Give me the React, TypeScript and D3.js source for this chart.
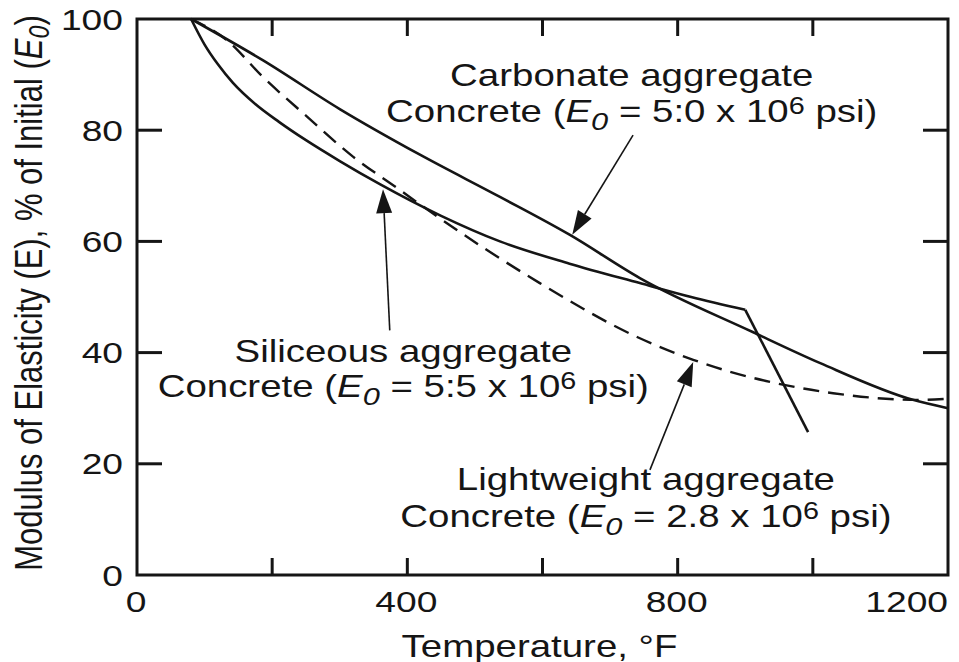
import { useEffect, useRef } from 'react';
import * as d3 from 'd3';

const W = 959;
const H = 662;

// axis ticks
const xTicks = [0, 200, 400, 600, 800, 1000, 1200];
const xTickLabels = [0, 400, 800, 1200];
const yTicks = [0, 20, 40, 60, 80, 100];

// [temperature °F, % of initial modulus]
const carbonate: [number, number][] = [
  [80, 100], [186, 92.6], [300, 83.8], [420, 75.5], [537, 68], [640, 61.2],
  [744, 53.4], [911, 43.7], [1011, 38.1], [1148, 31.5], [1200, 30],
];
const siliceous: [number, number][] = [
  [80, 100], [100, 95.4], [120, 91.8], [142, 88.5], [175, 84.7], [210, 81.5],
  [250, 78.2], [300, 74.45], [360, 70.25], [450, 64.6], [537, 60], [640, 56],
  [744, 52.5], [820, 50], [900, 47.7],
];
const siliceousDrop: [number, number][] = [[900, 47.7], [993, 25.7]];
const lightweight: [number, number][] = [
  [80, 100], [133, 96.2], [186, 89.6], [252, 82.4], [320, 75.2], [385, 69.6],
  [438, 65], [596, 52.5], [740, 42.8], [823, 38.7], [1030, 32.7], [1154, 31.5], [1200, 31.7],
];

// annotation arrows: tail -> tip, data coords
const arrowTails: [number, number][] = [[734, 79.1], [374, 44], [759, 18.9]];
const arrowTips: [number, number][] = [[644, 61.2], [364, 69.4], [823, 38.3]];

// annotation labels: centre x, first and second baseline, name, E0
const labelX = [732, 394, 753];
const labelY1 = [87.9, 38.3, 15.3];
const labelY2 = [81.5, 32.0, 8.6];
const labelNames = ['Carbonate aggregate', 'Siliceous aggregate', 'Lightweight aggregate'];
const labelE0 = ['5:0', '5:5', '2.8'];

const SX = 1.24;
const FONT = "'Liberation Sans', Arial, Helvetica, sans-serif";
const INK = '#151515';

export default function App() {
  const svgRef = useRef<SVGSVGElement>(null);

  useEffect(() => {
    const svg = d3.select(svgRef.current);
    if (!svg.node()) return;
    svg.selectAll('*').remove();

    const x = d3.scaleLinear().domain([0, 1200]).range([137, 948]);
    const y = d3.scaleLinear().domain([0, 100]).range([575, 19]);

    svg.append('rect').attr('width', W).attr('height', H).attr('fill', '#fff');

    const g = svg.append('g');

    const stretched = (px: number, py: number, anchor: string, size: number) =>
      g.append('g')
        .attr('transform', `translate(${px},${py}) scale(${SX},1)`)
        .append('text')
        .attr('text-anchor', anchor)
        .style('font-family', FONT)
        .style('font-size', `${size}px`)
        .style('fill', INK);

    // frame
    g.append('rect')
      .attr('x', x(0)).attr('y', y(100))
      .attr('width', x(1200) - x(0)).attr('height', y(0) - y(100))
      .attr('fill', 'none').attr('stroke', INK).attr('stroke-width', 3);

    // inward ticks on all four sides
    xTicks.slice(1, -1).forEach(t => {
      g.append('line').attr('x1', x(t)).attr('x2', x(t))
        .attr('y1', y(0)).attr('y2', y(0) - 17)
        .attr('stroke', INK).attr('stroke-width', 3);
      g.append('line').attr('x1', x(t)).attr('x2', x(t))
        .attr('y1', y(100)).attr('y2', y(100) + 17)
        .attr('stroke', INK).attr('stroke-width', 3);
    });
    yTicks.slice(1, -1).forEach(t => {
      g.append('line').attr('x1', x(0)).attr('x2', x(0) + 25)
        .attr('y1', y(t)).attr('y2', y(t))
        .attr('stroke', INK).attr('stroke-width', 3);
      g.append('line').attr('x1', x(1200)).attr('x2', x(1200) - 25)
        .attr('y1', y(t)).attr('y2', y(t))
        .attr('stroke', INK).attr('stroke-width', 3);
    });

    // tick labels
    yTicks.forEach(t => {
      stretched(x(0) - 14, y(t) + 10.5, 'end', 30).text(String(t));
    });
    xTickLabels.forEach((t, i) => {
      const last = i === xTickLabels.length - 1;
      stretched(last ? x(t) : x(t) - 1, y(0) + 37, last ? 'end' : 'middle', 30).text(String(t));
    });

    // axis titles
    stretched((x(0) + x(1200)) / 2 - 3, 657, 'middle', 31).text('Temperature, °F');

    const yl = g.append('g')
      .attr('transform', `translate(42, 293) scale(${SX},1) rotate(-90)`)
      .append('text')
      .attr('text-anchor', 'middle')
      .style('font-family', FONT)
      .style('font-size', '31px')
      .style('fill', INK);
    yl.append('tspan').text('Modulus of Elasticity (E), % of Initial (');
    yl.append('tspan').style('font-style', 'italic').text('E');
    yl.append('tspan').style('font-style', 'italic').style('font-size', '0.75em').attr('dy', 6).text('0');
    yl.append('tspan').attr('dy', -6).text(')');

    // curves
    const line = d3.line<[number, number]>()
      .x(d => x(d[0]))
      .y(d => y(d[1]))
      .curve(d3.curveMonotoneX);
    const straight = d3.line<[number, number]>()
      .x(d => x(d[0]))
      .y(d => y(d[1]));

    g.append('path').attr('d', line(carbonate))
      .attr('fill', 'none').attr('stroke', INK).attr('stroke-width', 2.6);
    g.append('path').attr('d', line(siliceous))
      .attr('fill', 'none').attr('stroke', INK).attr('stroke-width', 2.6)
      .attr('stroke-linejoin', 'miter');
    g.append('path').attr('d', straight(siliceousDrop))
      .attr('fill', 'none').attr('stroke', INK).attr('stroke-width', 2.6);
    g.append('path').attr('d', line(lightweight))
      .attr('fill', 'none').attr('stroke', INK).attr('stroke-width', 2.4)
      .attr('stroke-dasharray', '16,9');

    // arrows
    arrowTails.forEach((tail, i) => {
      const tip = arrowTips[i];
      const x0 = x(tail[0]), y0 = y(tail[1]);
      const x1 = x(tip[0]), y1 = y(tip[1]);
      const len = Math.hypot(x1 - x0, y1 - y0);
      const ux = (x1 - x0) / len, uy = (y1 - y0) / len;
      const headLen = 24, headW = 8;
      const bx = x1 - ux * headLen, by = y1 - uy * headLen;
      g.append('line')
        .attr('x1', x0).attr('y1', y0).attr('x2', bx).attr('y2', by)
        .attr('stroke', INK).attr('stroke-width', 1.6);
      g.append('polygon')
        .attr('points', [
          [x1, y1],
          [bx - uy * headW, by + ux * headW],
          [bx + uy * headW, by - ux * headW],
        ].map(p => p.join(',')).join(' '))
        .attr('fill', INK);
    });

    // annotation labels
    labelNames.forEach((name, i) => {
      stretched(x(labelX[i]), y(labelY1[i]), 'middle', 31).text(name);
      const t = stretched(x(labelX[i]), y(labelY2[i]), 'middle', 31);
      t.append('tspan').text('Concrete (');
      t.append('tspan').style('font-style', 'italic').text('E');
      t.append('tspan').style('font-style', 'italic').style('font-size', '0.8em').attr('dy', 8).text('0');
      t.append('tspan').attr('dy', -8).text(` = ${labelE0[i]} x 10`);
      t.append('tspan').style('font-size', '0.75em').attr('dy', -8).text('6');
      t.append('tspan').attr('dy', 8).text(' psi)');
    });
  }, []);

  return (
    <svg
      ref={svgRef}
      width={W}
      height={H}
      style={{ position: 'absolute', left: 0, top: 0, display: 'block' }}
    />
  );
}
